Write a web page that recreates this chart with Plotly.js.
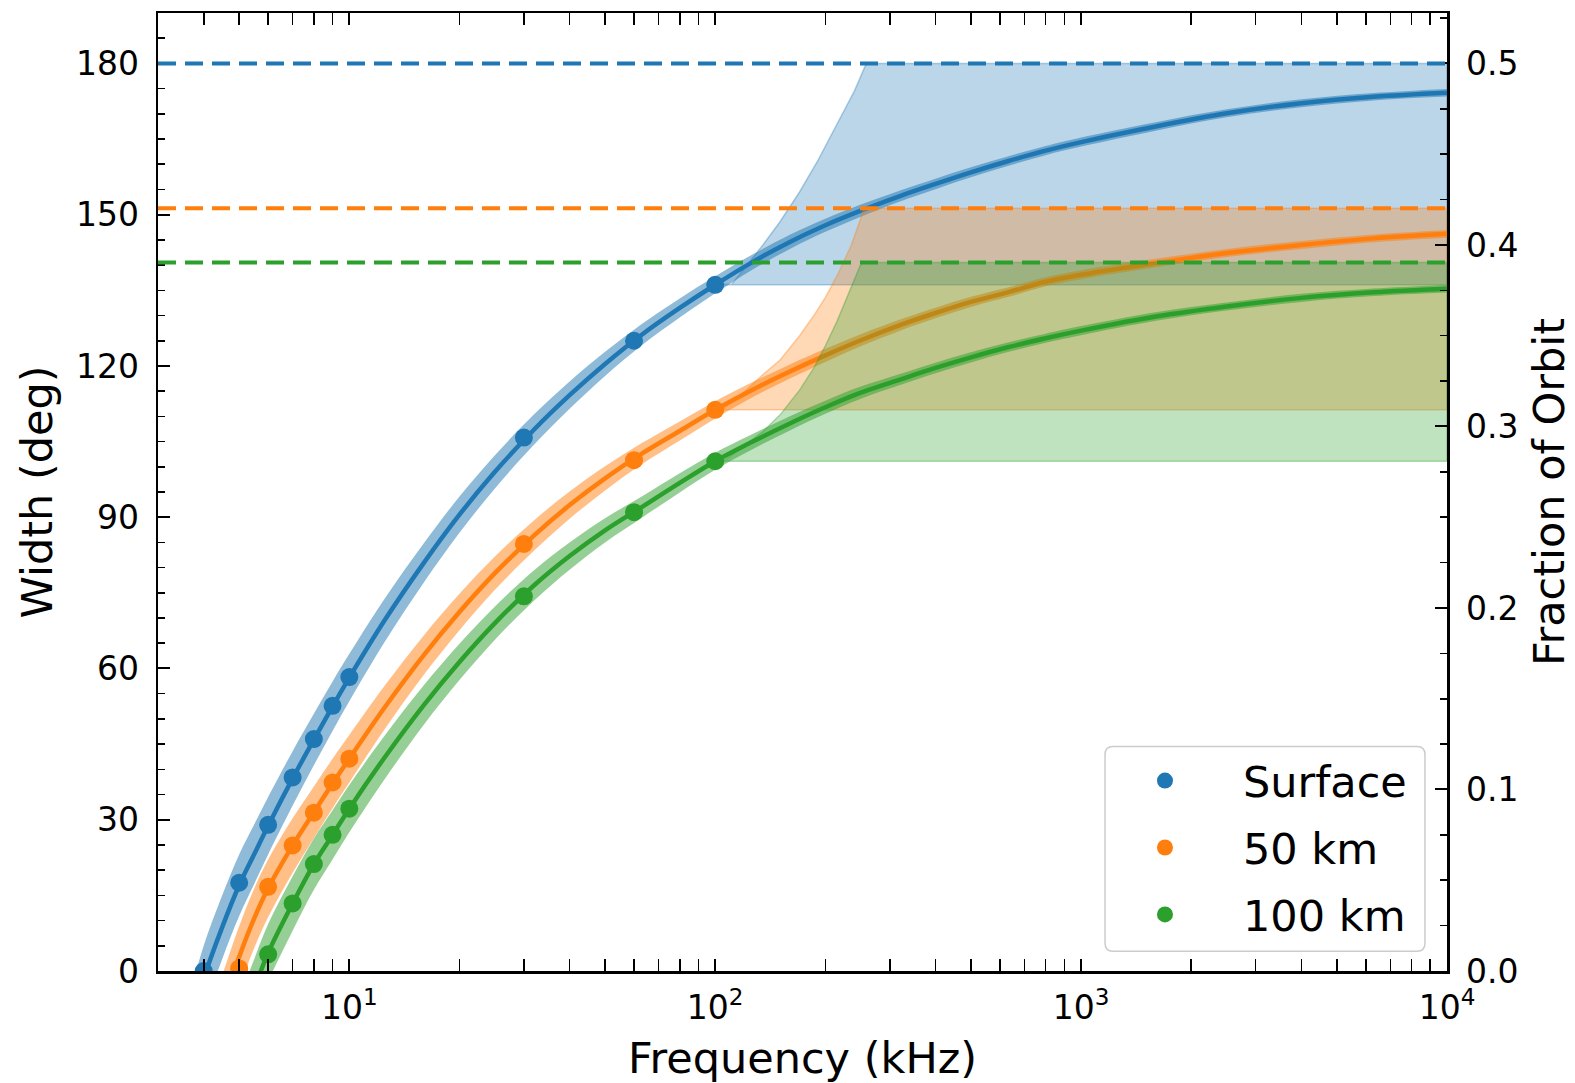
<!DOCTYPE html>
<html>
<head>
<meta charset="utf-8">
<script src="https://cdn.plot.ly/plotly-3.0.1.min.js"></script>
<style>html,body{margin:0;padding:0;background:#ffffff;}</style>
</head>
<body>
<div id="chart" style="width:1575px;height:1083px;"></div>
<script>
// ---------------- data ----------------
const seriesNames  = ['Surface', '50 km', '100 km'];
const seriesColors = ['31,119,180', '255,127,14', '44,160,44'];

// measured points (frequency kHz, width deg)
const surfFreq   = [4, 5, 6, 7, 8, 9, 10, 30, 60, 100];
const surfWidth  = [0, 17.5, 29.0, 38.4, 46.0, 52.6, 58.3, 105.8, 125.0, 136.1];
const km50Freq   = [5, 6, 7, 8, 9, 10, 30, 60, 100];
const km50Width  = [0.5, 16.7, 24.9, 31.4, 37.4, 42.1, 84.7, 101.3, 111.3];
const km100Freq  = [6, 7, 8, 9, 10, 30, 60, 100];
const km100Width = [3.3, 13.4, 21.2, 27.0, 32.2, 74.3, 91.0, 101.1];

// fitted curves, read along a common frequency grid
const fitFreq  = [3.7, 4, 4.5, 5, 5.5, 6, 7, 8, 9, 10, 12.5, 16, 20, 25, 32, 40, 50, 63, 80, 100,
                  125, 160, 200, 250, 320, 400, 500, 630, 800, 1000, 1600, 2500, 4000, 6300, 10000];
const surfFit  = [-10, -1.5, 8.8, 17.0, 23.2, 28.8, 38.2, 45.9, 52.5, 58.2, 69.6, 81.0, 90.5, 99.0, 107.4,
                  114.2, 120.4, 126.2, 131.5, 136.1, 140.4, 144.6, 147.9, 150.8, 153.7, 156.1, 158.4,
                  160.6, 162.7, 164.4, 167.5, 170.1, 172.1, 173.4, 174.2];
const km50Fit  = [null, null, -7.0, 2.8, 10.5, 16.4, 24.9, 31.5, 37.2, 42.1, 52.3, 62.7, 71.2, 78.9, 86.4,
                  92.4, 97.7, 102.6, 107.1, 111.3, 115.1, 118.9, 122.1, 125.1, 128.1, 130.5, 132.7,
                  134.6, 136.7, 138.1, 140.4, 142.4, 144.0, 145.3, 146.2];
const km100Fit = [null, null, null, -11.5, -3.5, 3.6, 13.4, 21.2, 27.0, 32.2, 42.4, 52.8, 61.3, 69.0, 76.5,
                  82.3, 87.4, 92.0, 96.8, 101.1, 104.8, 108.6, 111.8, 114.7, 117.3, 119.6, 121.7,
                  123.7, 125.5, 127.0, 129.8, 131.8, 133.5, 134.6, 135.3];
// half spread of the fit band (deg) along the same grid
const fitSpread = [6.5, 6.5, 6.3, 6.1, 5.9, 5.7, 5.4, 5.1, 4.9, 4.7, 4.3, 3.9, 3.6, 3.3, 3.0, 2.7, 2.4,
                   2.1, 1.9, 1.7, 1.5, 1.4, 1.3, 1.2, 1.1, 1.05, 1.0, 0.95, 0.9, 0.9, 0.85, 0.8, 0.8,
                   0.75, 0.75];

// maximum widths (dashed lines) and shaded ranges above 100 kHz
const maxWidth = [180, 151.3, 140.5];
const envLow   = [136.1, 111.3, 101.1];
const surfEnvFreq   = [100, 111, 120, 135, 150, 170, 190, 215, 240, 257, 261, 10000];
const surfEnvUpper  = [136.1, 136.2, 139.3, 144.0, 148.5, 154.5, 160.5, 168.0, 174.5, 179.5, 180, 180];
const km50EnvFreq   = [100, 105, 120, 135, 150, 170, 186, 200, 215, 235, 252, 255, 10000];
const km50EnvUpper  = [111.3, 111.5, 114.8, 118.3, 121.1, 126.0, 130.0, 133.6, 137.8, 143.8, 150.0, 151.3, 151.3];
const km100EnvFreq  = [100, 106, 120, 135, 150, 170, 186, 200, 215, 235, 249, 253, 10000];
const km100EnvUpper = [101.1, 101.3, 104.1, 107.0, 110.2, 115.2, 119.6, 124.0, 128.8, 135.6, 139.9, 140.5, 140.5];

// axes
const xRangeKHz   = [3, 10000];
const xTickVals   = [10, 100, 1000, 10000];
const xTickText   = ['10<sup>1</sup>', '10<sup>2</sup>', '10<sup>3</sup>', '10<sup>4</sup>'];
const yRangeDeg   = [0, 190];
const degPerOrbit = 360;

// ---------------- build ----------------
const pointFreqs  = [surfFreq, km50Freq, km100Freq];
const pointWidths = [surfWidth, km50Width, km100Width];
const fits        = [surfFit, km50Fit, km100Fit];
const envFreqs    = [surfEnvFreq, km50EnvFreq, km100EnvFreq];
const envUppers   = [surfEnvUpper, km50EnvUpper, km100EnvUpper];

const FONT = 'DejaVu Sans, Verdana, sans-serif';
const rgba = (c, a) => 'rgba(' + c + ',' + a + ')';
const traces = [];

for (let s = 0; s < 3; s++) {
  const col = seriesColors[s];
  const xs = [], up = [], lo = [], mid = [];
  for (let i = 0; i < fitFreq.length; i++) {
    if (fits[s][i] === null) continue;
    xs.push(fitFreq[i]);
    mid.push(fits[s][i]);
    up.push(fits[s][i] + fitSpread[i]);
    lo.push(fits[s][i] - fitSpread[i]);
  }
  // band around the fit
  traces.push({x: xs, y: up, mode: 'lines', line: {width: 0, shape: 'spline', smoothing: 1, color: rgba(col, 0)},
               showlegend: false, hoverinfo: 'skip', legendgroup: 'g' + s});
  traces.push({x: xs, y: lo, mode: 'lines', fill: 'tonexty', fillcolor: rgba(col, 0.5),
               line: {width: 0, shape: 'spline', smoothing: 1, color: rgba(col, 0)},
               showlegend: false, hoverinfo: 'skip', legendgroup: 'g' + s});
  // fit line
  traces.push({x: xs, y: mid, mode: 'lines', line: {width: 4.5, shape: 'spline', smoothing: 1, color: rgba(col, 1)},
               showlegend: false, hoverinfo: 'skip', legendgroup: 'g' + s});
  // measured points
  traces.push({x: pointFreqs[s], y: pointWidths[s], mode: 'markers', name: seriesNames[s],
               marker: {size: 18, color: rgba(col, 1)}, legendgroup: 'g' + s, showlegend: true});
  // shaded range
  const n = envFreqs[s].length;
  const ex = envFreqs[s].concat([envFreqs[s][n - 1], envFreqs[s][0]]);
  const ey = envUppers[s].concat([envLow[s], envLow[s]]);
  traces.push({x: ex, y: ey, mode: 'lines', fill: 'toself', fillcolor: rgba(col, 0.3),
               line: {width: 1.5, color: rgba(col, 0.35)}, showlegend: false, hoverinfo: 'skip',
               legendgroup: 'g' + s});
}
// trace that carries the right-hand axis
traces.push({x: [xRangeKHz[0]], y: [null], yaxis: 'y2', mode: 'markers', showlegend: false, hoverinfo: 'skip'});

const shapes = maxWidth.map((w, s) => ({
  type: 'line', xref: 'paper', x0: 0, x1: 1, yref: 'y', y0: w, y1: w, layer: 'above',
  line: {color: rgba(seriesColors[s], 1), width: 4, dash: '18px,9px'}
}));

// legend frame (rounded box, as in the reference)
const lb = {x0: 0.7347, x1: 0.9829, y0: 0.0207, y1: 0.2344, rx: 0.0062, ry: 0.0083};
shapes.push({
  type: 'path', xref: 'paper', yref: 'paper', layer: 'above',
  path: 'M' + (lb.x0 + lb.rx) + ',' + lb.y0 + ' L' + (lb.x1 - lb.rx) + ',' + lb.y0 +
        ' Q' + lb.x1 + ',' + lb.y0 + ' ' + lb.x1 + ',' + (lb.y0 + lb.ry) +
        ' L' + lb.x1 + ',' + (lb.y1 - lb.ry) +
        ' Q' + lb.x1 + ',' + lb.y1 + ' ' + (lb.x1 - lb.rx) + ',' + lb.y1 +
        ' L' + (lb.x0 + lb.rx) + ',' + lb.y1 +
        ' Q' + lb.x0 + ',' + lb.y1 + ' ' + lb.x0 + ',' + (lb.y1 - lb.ry) +
        ' L' + lb.x0 + ',' + (lb.y0 + lb.ry) +
        ' Q' + lb.x0 + ',' + lb.y0 + ' ' + (lb.x0 + lb.rx) + ',' + lb.y0 + ' Z',
  fillcolor: 'rgba(255,255,255,0.8)', line: {color: '#cccccc', width: 1.5}
});

const tickFont  = {family: FONT, size: 33, color: '#000'};
const titleFont = {family: FONT, size: 43, color: '#000'};
const minorCommon = {ticks: 'inside', ticklen: 7, tickwidth: 1.6, tickcolor: '#000', showgrid: false};

const layout = {
  width: 1575, height: 1083,
  margin: {l: 158, r: 128, t: 13, b: 112, pad: 0},
  paper_bgcolor: '#ffffff', plot_bgcolor: '#ffffff',
  showlegend: true,
  font: {family: FONT, color: '#000'},
  xaxis: {
    type: 'log', range: [Math.log10(xRangeKHz[0]), Math.log10(xRangeKHz[1])],
    tickmode: 'array', tickvals: xTickVals, ticktext: xTickText,
    ticks: 'inside', ticklen: 12, tickwidth: 2, tickcolor: '#000',
    minor: Object.assign({dtick: 'D1'}, minorCommon),
    showline: true, linewidth: 2.5, linecolor: '#000', mirror: 'allticks',
    showgrid: false, zeroline: false, tickfont: tickFont, ticklabelstandoff: 6,
    title: {text: 'Frequency (kHz)', font: titleFont, standoff: 19}, automargin: false
  },
  yaxis: {
    range: yRangeDeg, tick0: 0, dtick: 30,
    ticks: 'inside', ticklen: 12, tickwidth: 2, tickcolor: '#000',
    minor: Object.assign({dtick: 5}, minorCommon),
    showline: true, linewidth: 2.5, linecolor: '#000',
    showgrid: false, zeroline: false, tickfont: tickFont, ticklabelstandoff: 10,
    title: {text: 'Width (deg)', font: titleFont, standoff: 10}, automargin: false
  },
  yaxis2: {
    overlaying: 'y', side: 'right',
    range: [yRangeDeg[0] / degPerOrbit, yRangeDeg[1] / degPerOrbit], tick0: 0, dtick: 0.1, tickformat: '.1f',
    ticks: 'inside', ticklen: 12, tickwidth: 2, tickcolor: '#000',
    minor: Object.assign({dtick: 0.025}, minorCommon),
    showline: true, linewidth: 2.5, linecolor: '#000',
    showgrid: false, zeroline: false, tickfont: tickFont, ticklabelstandoff: 10,
    title: {text: 'Fraction of Orbit', font: titleFont, standoff: 17}, automargin: false
  },
  legend: {
    x: 0.7207, xanchor: 'left', y: 0.2347, yanchor: 'top',
    bgcolor: 'rgba(255,255,255,0)', borderwidth: 0,
    font: {family: FONT, size: 43, color: '#000'},
    itemwidth: 146, tracegroupgap: 8, traceorder: 'grouped'
  },
  shapes: shapes
};

Plotly.newPlot('chart', traces, layout, {staticPlot: true, displayModeBar: false});
</script>
</body>
</html>
